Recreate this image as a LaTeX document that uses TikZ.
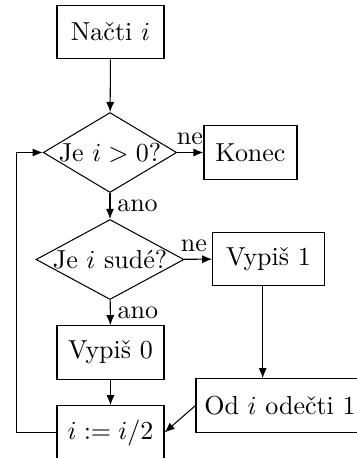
\documentclass[tikz,border=0pt]{standalone}
\usetikzlibrary{shapes.geometric,arrows.meta}
\newcommand\pxu{0.3846pt}
\begin{document}
\begin{tikzpicture}[x=0.3846pt,y=-0.3846pt,
  box/.style={draw,rectangle,inner sep=0pt,minimum height=53.5*\pxu},
  dec/.style={draw,diamond,inner sep=0pt,minimum height=80*\pxu},
  arr/.style={-{Latex[length=3.9pt,width=3.1pt]}},
  lbl/.style={inner sep=2.6pt}]
\clip (0,0) rectangle (357,458);
\node[box,minimum width=107*\pxu] (nacti) at (110.5,32) {Načti $i$};
\node[dec,minimum width=133.5*\pxu] (d1) at (110,152.5) {\makebox[0pt]{Je $i>0$?}};
\node[box,minimum width=93*\pxu] (konec) at (250.5,152.5) {Konec};
\node[dec,minimum width=148*\pxu] (d2) at (110,259.5) {\makebox[0pt]{Je $i$ sudé?}};
\node[box,minimum width=111.5*\pxu] (v1) at (268.5,259) {Vypiš 1};
\node[box,minimum width=107*\pxu] (v0) at (110.5,352.5) {Vypiš 0};
\node[box,minimum width=107*\pxu] (half) at (110.5,432.5) {$i:=i/2$};
\node[box,minimum width=168*\pxu] (od) at (280,405.5) {Od $i$ odečti 1};
\draw[arr] (nacti) -- (d1);
\draw[arr] (d1) -- node[lbl,above,pos=0.48] {ne} (konec);
\draw[arr] (d1) -- node[lbl,right,pos=0.5] {ano} (d2);
\draw[arr] (d2) -- node[lbl,above,pos=0.35] {ne} (v1);
\draw[arr] (d2) -- node[lbl,right,pos=0.5] {ano} (v0);
\draw[arr] (v0) -- (half);
\draw[arr] ([xshift=-5.8*\pxu]v1.south) -- ([xshift=-5.8*\pxu]v1.south |- od.north);
\draw[arr] (od.west) -- (half.east);
\draw[arr] (half.west) -- ++(-40,0) |- (d1.west);
\end{tikzpicture}
\end{document}
